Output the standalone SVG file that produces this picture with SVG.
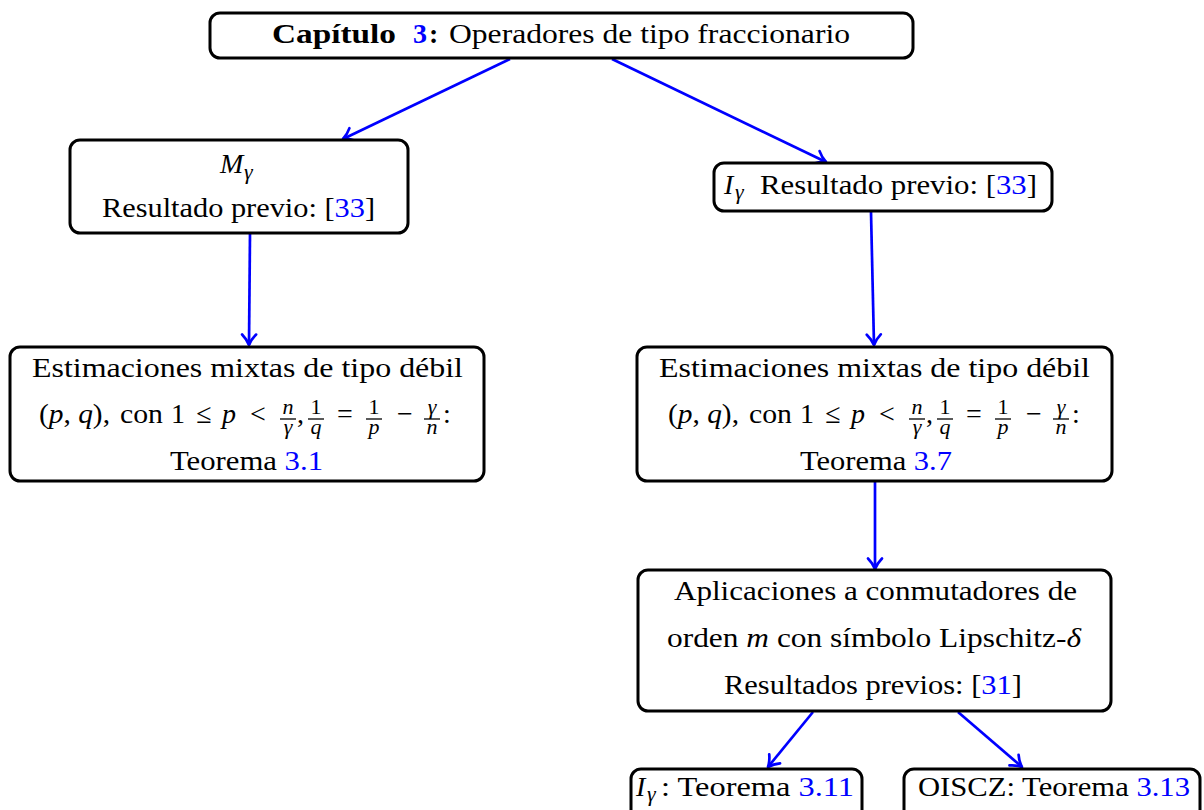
<svg xmlns="http://www.w3.org/2000/svg" xmlns:xlink="http://www.w3.org/1999/xlink" width="1204" height="810" viewBox="0 0 1204 810">
<style>
.box{fill:#fff;stroke:#000;stroke-width:3}
.t{font-family:"Liberation Serif","DejaVu Serif",serif;font-size:28px;fill:#000}
.i{font-style:italic}
.b{font-weight:bold}
.ref{fill:#0000ff}
.t.s{font-size:22px}
.m{text-anchor:middle}
.bar{stroke:#000;stroke-width:1.3}
.edge{stroke:#0000ff;stroke-width:2.7;fill:none;marker-end:url(#arr)}
</style>
<defs>
<marker id="arr" markerUnits="userSpaceOnUse" viewBox="-14 -9 16 18" markerWidth="16" markerHeight="18" refX="0" refY="0" orient="auto">
<path d="M-10.5,-7 C-7,-3.5 -2.5,-1 0,0 C-2.5,1 -7,3.5 -10.5,7" fill="none" stroke="#0000ff" stroke-width="2.7" stroke-linecap="round" stroke-linejoin="round"/>
</marker>
<g id="cond">
<text class="t" x="39" y="423" textLength="71" lengthAdjust="spacingAndGlyphs">(<tspan class="i">p</tspan>, <tspan class="i">q</tspan>),</text>
<text class="t" x="120" y="423" textLength="43" lengthAdjust="spacingAndGlyphs">con</text>
<text class="t" x="171" y="423">1</text>
<text class="t m" x="204" y="423">≤</text>
<text class="t i" x="222" y="423">p</text>
<text class="t m" x="258" y="423">&lt;</text>
<text class="t i s m" x="288" y="414">n</text>
<line class="bar" x1="280" y1="419" x2="296" y2="419"/>
<text class="t i s m" x="288" y="434">γ</text>
<text class="t" x="297" y="423">,</text>
<text class="t s m" x="316" y="414">1</text>
<line class="bar" x1="308" y1="419" x2="324" y2="419"/>
<text class="t i s m" x="316" y="434">q</text>
<text class="t m" x="345" y="423">=</text>
<text class="t s m" x="374" y="414">1</text>
<line class="bar" x1="366" y1="419" x2="382" y2="419"/>
<text class="t i s m" x="374" y="434">p</text>
<text class="t m" x="405" y="423">−</text>
<text class="t i s m" x="432" y="414">γ</text>
<line class="bar" x1="424" y1="419" x2="440" y2="419"/>
<text class="t i s m" x="432" y="434">n</text>
<text class="t" x="443" y="423">:</text>
</g>
</defs>
<rect width="1204" height="810" fill="#fff"/>

<g id="connectors">
<line class="edge" x1="510" y1="59" x2="343" y2="139"/>
<line class="edge" x1="612" y1="59" x2="826" y2="162"/>
<line class="edge" x1="250" y1="234" x2="249" y2="345"/>
<line class="edge" x1="871" y1="212" x2="874" y2="345"/>
<line class="edge" x1="875" y1="482" x2="875" y2="569"/>
<line class="edge" x1="813" y1="712" x2="768" y2="767"/>
<line class="edge" x1="958" y1="712" x2="1022" y2="767"/>
</g>

<g id="cap3">
<rect class="box" x="210" y="13" width="703" height="45" rx="10"/>
<text class="t b" x="272" y="43" textLength="124" lengthAdjust="spacingAndGlyphs">Capítulo</text>
<text class="t b ref" x="413" y="43">3</text>
<text class="t b" x="429" y="43">:</text>
<text class="t" x="449" y="43" textLength="401" lengthAdjust="spacingAndGlyphs">Operadores de tipo fraccionario</text>
</g>

<g id="mgamma">
<rect class="box" x="70" y="140" width="338" height="93" rx="10"/>
<text class="t i" x="220" y="173">M</text>
<text class="t i s" x="244" y="179">γ</text>
<text class="t" x="102" y="217" textLength="273" lengthAdjust="spacingAndGlyphs">Resultado previo: [<tspan class="ref">33</tspan>]</text>
</g>

<g id="igamma">
<rect class="box" x="714" y="163" width="338" height="48" rx="10"/>
<text class="t i" x="724" y="194">I</text>
<text class="t i s" x="735" y="199">γ</text>
<text class="t" x="760" y="194" textLength="277" lengthAdjust="spacingAndGlyphs">Resultado previo: [<tspan class="ref">33</tspan>]</text>
</g>

<g id="estM">
<rect class="box" x="10" y="347" width="474" height="134" rx="10"/>
<text class="t" x="32" y="377" textLength="431" lengthAdjust="spacingAndGlyphs">Estimaciones mixtas de tipo débil</text>
<use xlink:href="#cond"/>
<text class="t" x="170" y="470" textLength="153" lengthAdjust="spacingAndGlyphs">Teorema <tspan class="ref">3.1</tspan></text>
</g>

<g id="estI">
<rect class="box" x="637" y="347" width="475" height="134" rx="10"/>
<text class="t" x="659" y="377" textLength="431" lengthAdjust="spacingAndGlyphs">Estimaciones mixtas de tipo débil</text>
<use xlink:href="#cond" x="629"/>
<text class="t" x="800" y="470" textLength="152" lengthAdjust="spacingAndGlyphs">Teorema <tspan class="ref">3.7</tspan></text>
</g>

<g id="aplic">
<rect class="box" x="638" y="570" width="473" height="141" rx="10"/>
<text class="t" x="674" y="600" textLength="403" lengthAdjust="spacingAndGlyphs">Aplicaciones a conmutadores de</text>
<text class="t" x="667" y="647" textLength="414" lengthAdjust="spacingAndGlyphs">orden <tspan class="i">m</tspan> con símbolo Lipschitz-<tspan class="i">δ</tspan></text>
<text class="t" x="724" y="694" textLength="298" lengthAdjust="spacingAndGlyphs">Resultados previos: [<tspan class="ref">31</tspan>]</text>
</g>

<g id="t311">
<rect class="box" x="631" y="769" width="231" height="60" rx="10"/>
<text class="t i" x="636" y="796">I</text>
<text class="t i s" x="647" y="801">γ</text>
<text class="t" x="661" y="796" textLength="193" lengthAdjust="spacingAndGlyphs">: Teorema <tspan class="ref">3.11</tspan></text>
</g>

<g id="t313">
<rect class="box" x="904" y="769" width="296" height="60" rx="10"/>
<text class="t" x="918" y="796" textLength="272" lengthAdjust="spacingAndGlyphs">OISCZ: Teorema <tspan class="ref">3.13</tspan></text>
</g>
</svg>
